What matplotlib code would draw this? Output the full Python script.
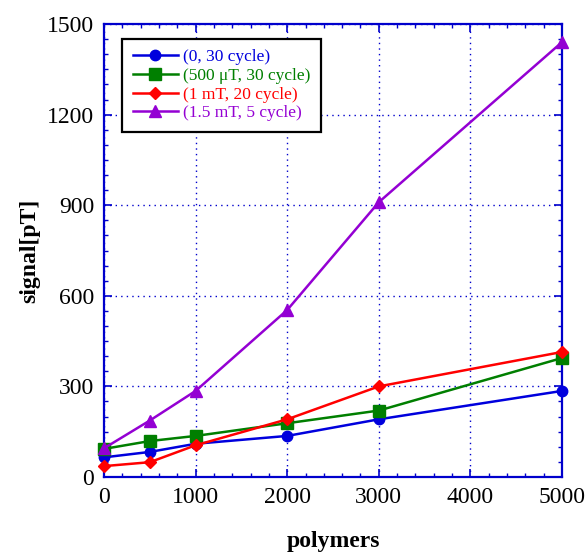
import matplotlib
matplotlib.use('Agg')
import matplotlib.pyplot as plt
from matplotlib.ticker import MultipleLocator

# -- data
polymers = [0, 500, 1000, 2000, 3000, 5000]
sig_0 = [65, 83, 110, 136, 191, 285]
sig_500uT = [93, 119, 136, 178, 220, 394]
sig_1mT = [36, 49, 105, 191, 300, 414]
sig_15mT = [95, 187, 285, 553, 910, 1440]

labels = ['(0, 30 cycle)', '(500 \u03bcT, 30 cycle)', '(1 mT, 20 cycle)', '(1.5 mT, 5 cycle)']
colors = ['#0000dd', '#007f00', '#ff0000', '#9400d3']
markers = ['o', 's', 'D', '^']
msizes = [7.5, 8, 6.5, 8]

plt.rcParams['font.family'] = ['Liberation Serif', 'DejaVu Serif']

fig = plt.figure(figsize=[5.85, 5.56], dpi=100)
fig.patch.set_facecolor('white')
ax = fig.add_axes([0.1778, 0.1421, 0.7829, 0.8147])

series = [sig_0, sig_500uT, sig_1mT, sig_15mT]
for s, lab, c, m, ms in zip(series, labels, colors, markers, msizes):
    ax.plot(polymers, s, color=c, marker=m, markersize=ms, linewidth=1.8,
            label=lab, clip_on=False, zorder=3)

ax.set_xlim(0, 5000)
ax.set_ylim(0, 1500)
ax.xaxis.set_major_locator(MultipleLocator(1000))
ax.xaxis.set_minor_locator(MultipleLocator(200))
ax.yaxis.set_major_locator(MultipleLocator(300))
ax.yaxis.set_minor_locator(MultipleLocator(50))

axcol = '#0000cc'
for sp in ax.spines.values():
    sp.set_color(axcol)
    sp.set_linewidth(1.6)
ax.tick_params(which='both', direction='in', top=True, right=True, color=axcol,
               labelsize=17, labelcolor='black')
ax.tick_params(which='major', length=6, width=1.2, pad=7)
ax.tick_params(which='minor', length=3, width=1.0)
ax.grid(True, which='major', color=axcol, linestyle=(0, (1, 3)), linewidth=1.0)

ax.set_xlabel('polymers', fontsize=17, fontweight='bold', labelpad=17)
ax.set_ylabel('signal[pT]', fontsize=17, fontweight='bold', labelpad=5)

leg = ax.legend(loc='upper left', bbox_to_anchor=(0.04, 0.968), fontsize=12.5,
                fancybox=False, edgecolor='black', framealpha=1,
                handlelength=2.6, handletextpad=0.3, labelspacing=0.15,
                borderpad=0.6, borderaxespad=0)
leg.get_frame().set_linewidth(1.6)
for t, c in zip(leg.get_texts(), colors):
    t.set_color(c)

fig.savefig('out.png', dpi=100)
